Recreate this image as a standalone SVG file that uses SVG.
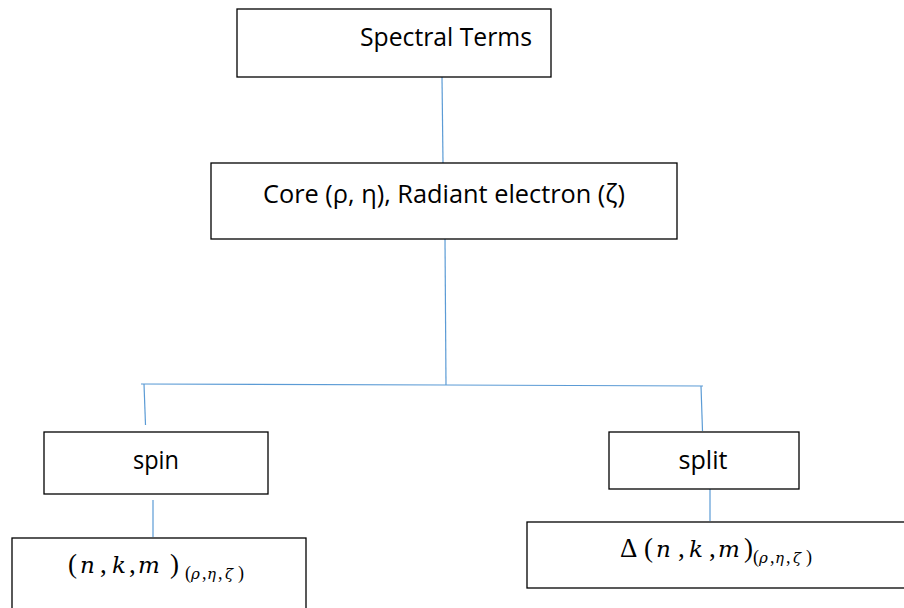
<svg xmlns="http://www.w3.org/2000/svg" width="904" height="608" viewBox="0 0 904 608">
<style>
.box{fill:#fff;stroke:#000;stroke-width:1.3}
.lbl{font-family:"Open Sans","Liberation Sans",sans-serif;font-size:26px;fill:#000;text-anchor:middle}
.m{font-family:"Liberation Serif","DejaVu Serif",serif;font-size:27px;fill:#000}
.mi{font-family:"DejaVu Serif","Liberation Serif",serif;font-style:italic;font-size:23px}
.sub{font-size:18px}
.si{font-family:"DejaVu Serif","Liberation Serif",serif;font-style:italic;font-size:15px}
.c{fill:none;stroke:#5B9BD5;stroke-width:1.2}
</style>
<rect width="904" height="608" fill="#fff"/>
<g id="connectors">
<line class="c" x1="442" y1="77" x2="443" y2="163"/>
<line class="c" x1="445" y1="239" x2="446" y2="385"/>
<polyline class="c" points="141,384 446,385 703,386"/>
<line class="c" x1="144" y1="384" x2="145.5" y2="425"/>
<line class="c" x1="701" y1="386" x2="702.5" y2="431"/>
<line class="c" x1="153" y1="500" x2="153" y2="537"/>
<line class="c" x1="710" y1="487" x2="710" y2="521"/>
</g>
<g id="spectral">
<rect class="box" x="237" y="9" width="314" height="68"/>
<text class="lbl" x="446" y="46" textLength="172" lengthAdjust="spacingAndGlyphs">Spectral Terms</text>
</g>
<g id="core">
<rect class="box" x="211" y="163" width="466" height="76"/>
<text class="lbl" x="444" y="203" textLength="362" lengthAdjust="spacingAndGlyphs">Core (ρ, η), Radiant electron (ζ)</text>
</g>
<g id="spin">
<rect class="box" x="44" y="432" width="224" height="62"/>
<text class="lbl" x="156" y="469" textLength="46" lengthAdjust="spacingAndGlyphs">spin</text>
</g>
<g id="split">
<rect class="box" x="609" y="432" width="190" height="57"/>
<text class="lbl" x="703" y="469" textLength="49" lengthAdjust="spacingAndGlyphs">split</text>
</g>
<g id="spinTerm">
<rect class="box" x="12" y="538" width="294" height="80"/>
<text class="m" y="573"><tspan x="68">(</tspan><tspan class="mi" x="80">n</tspan><tspan x="100">,</tspan><tspan class="mi" x="112">k</tspan><tspan x="129">,</tspan><tspan class="mi" x="138">m</tspan><tspan x="170">)</tspan><tspan class="sub" y="579"><tspan x="185">(</tspan><tspan class="si" x="191">ρ</tspan><tspan x="202">,</tspan><tspan class="si" x="207">η</tspan><tspan x="218">,</tspan><tspan class="si" x="225">ζ</tspan><tspan x="238">)</tspan></tspan></text>
</g>
<g id="splitTerm">
<rect class="box" x="527" y="522" width="390" height="66"/>
<text class="m" y="557"><tspan x="620">Δ</tspan><tspan x="644">(</tspan><tspan class="mi" x="656">n</tspan><tspan x="678">,</tspan><tspan class="mi" x="689">k</tspan><tspan x="709">,</tspan><tspan class="mi" x="718">m</tspan><tspan x="744">)</tspan><tspan class="sub" y="563"><tspan x="753">(</tspan><tspan class="si" x="759">ρ</tspan><tspan x="770">,</tspan><tspan class="si" x="775">η</tspan><tspan x="786">,</tspan><tspan class="si" x="793">ζ</tspan><tspan x="806">)</tspan></tspan></text>
</g>
</svg>
